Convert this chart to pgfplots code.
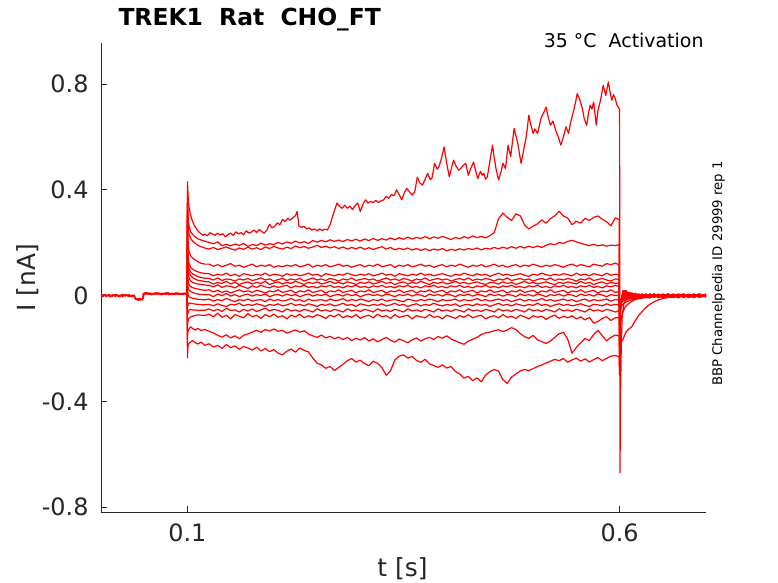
\documentclass[border=0pt]{standalone}
\usepackage{fontspec}
\setmainfont{DejaVu Sans}
\usepackage{pgfplots}
\pgfplotsset{compat=1.18}
\usepackage{pgfplotstable}
\definecolor{axgray}{gray}{0.15}

\pgfplotstableread{
t b c d e f g h i j k l m n o p
0.0995 0.005 0.007 0.006 0.004 0.008 0.005 0.006 0.007 0.004 0.006 0.005 0.007 0.006 0.005 0.006
0.1000 0.39 0.35 0.30 0.26 0.22 0.19 0.16 0.12 0.08 0.04 -0.03 -0.07 -0.11 -0.16 -0.235
0.1005 0.34 0.30 0.24 0.19 0.16 0.13 0.10 0.07 0.04 0.01 -0.04 -0.07 -0.10 -0.14 -0.20
0.1010 0.29 0.26 0.19 0.14 0.12 0.10 0.08 0.05 0.025 0.0 -0.03 -0.06 -0.09 -0.13 -0.185
0.1020 0.26 0.23 0.165 0.12 0.10 0.085 0.065 0.04 0.02 -0.005 -0.028 -0.055 -0.085 -0.125 -0.18
0.1040 0.24 0.215 0.15 0.105 0.088 0.075 0.055 0.034 0.015 -0.008 -0.03 -0.052 -0.08 -0.118 -0.175
0.1060 0.232 0.205 0.142 0.1 0.082 0.068 0.05 0.03 0.012 -0.01 -0.03 -0.055 -0.078 -0.125 -0.17
0.1090 0.222 0.198 0.135 0.094 0.077 0.062 0.046 0.027 0.008 -0.012 -0.032 -0.054 -0.075 -0.13 -0.178
0.1120 0.215 0.19 0.128 0.09 0.072 0.058 0.044 0.025 0.006 -0.014 -0.033 -0.056 -0.073 -0.124 -0.183
0.1160 0.21 0.185 0.122 0.086 0.068 0.056 0.042 0.022 0.004 -0.015 -0.034 -0.055 -0.074 -0.132 -0.176
0.1200 0.206 0.18 0.119 0.084 0.066 0.053 0.04 0.02 0.003 -0.016 -0.035 -0.056 -0.075 -0.128 -0.188
0.125 0.201 0.176 0.119 0.083 0.065 0.052 0.039 0.022 0.004 -0.013 -0.033 -0.050 -0.070 -0.135 -0.182
0.130 0.196 0.182 0.111 0.075 0.059 0.044 0.033 0.014 -0.004 -0.021 -0.039 -0.058 -0.080 -0.141 -0.195
0.135 0.203 0.174 0.117 0.081 0.067 0.050 0.041 0.020 0.006 -0.015 -0.031 -0.052 -0.066 -0.150 -0.188
0.140 0.189 0.179 0.109 0.077 0.057 0.046 0.031 0.012 0.000 -0.019 -0.037 -0.060 -0.082 -0.157 -0.200
0.145 0.194 0.184 0.115 0.085 0.063 0.054 0.037 0.018 0.008 -0.011 -0.041 -0.048 -0.074 -0.148 -0.185
0.150 0.188 0.177 0.121 0.075 0.061 0.044 0.035 0.010 -0.002 -0.017 -0.033 -0.056 -0.088 -0.160 -0.197
0.155 0.195 0.172 0.111 0.081 0.055 0.050 0.029 0.016 0.004 -0.023 -0.035 -0.054 -0.072 -0.152 -0.190
0.160 0.190 0.180 0.115 0.073 0.063 0.042 0.039 0.022 -0.004 -0.015 -0.029 -0.062 -0.078 -0.163 -0.203
0.165 0.197 0.175 0.107 0.083 0.059 0.048 0.033 0.014 0.002 -0.019 -0.039 -0.052 -0.084 -0.150 -0.192
0.170 0.186 0.183 0.113 0.079 0.065 0.052 0.027 0.018 0.006 -0.013 -0.033 -0.058 -0.068 -0.145 -0.198
0.175 0.193 0.176 0.119 0.075 0.057 0.044 0.037 0.012 -0.002 -0.021 -0.037 -0.050 -0.080 -0.138 -0.206
0.180 0.189 0.181 0.109 0.081 0.061 0.050 0.031 0.020 0.004 -0.017 -0.031 -0.060 -0.074 -0.131 -0.195
0.185 0.198 0.174 0.115 0.077 0.067 0.046 0.039 0.016 0.000 -0.015 -0.035 -0.054 -0.086 -0.139 -0.209
0.190 0.191 0.184 0.111 0.085 0.059 0.054 0.033 0.010 0.006 -0.023 -0.041 -0.048 -0.072 -0.128 -0.200
0.195 0.196 0.178 0.117 0.075 0.063 0.042 0.029 0.018 -0.004 -0.013 -0.033 -0.058 -0.080 -0.134 -0.212
0.200 0.193 0.186 0.107 0.081 0.055 0.048 0.037 0.014 0.002 -0.019 -0.037 -0.052 -0.070 -0.126 -0.204
0.205 0.201 0.180 0.113 0.079 0.061 0.052 0.031 0.022 0.004 -0.015 -0.031 -0.056 -0.082 -0.135 -0.218
0.210 0.195 0.176 0.109 0.073 0.065 0.044 0.035 0.012 -0.002 -0.021 -0.039 -0.062 -0.076 -0.131 -0.224
0.215 0.203 0.183 0.115 0.083 0.057 0.050 0.039 0.016 0.006 -0.017 -0.035 -0.050 -0.088 -0.142 -0.210
0.220 0.198 0.178 0.111 0.077 0.063 0.046 0.029 0.020 0.000 -0.011 -0.029 -0.058 -0.074 -0.136 -0.202
0.225 0.206 0.188 0.117 0.081 0.059 0.054 0.037 0.010 0.004 -0.019 -0.037 -0.054 -0.080 -0.130 -0.214
0.230 0.199 0.181 0.109 0.075 0.065 0.048 0.033 0.018 -0.004 -0.015 -0.033 -0.060 -0.070 -0.138 -0.198
0.235 0.204 0.186 0.113 0.079 0.055 0.042 0.039 0.014 0.002 -0.023 -0.039 -0.052 -0.084 -0.133 -0.207
0.240 0.197 0.179 0.119 0.085 0.061 0.050 0.031 0.022 0.006 -0.013 -0.031 -0.056 -0.076 -0.145 -0.213
0.245 0.208 0.184 0.107 0.077 0.067 0.046 0.035 0.012 -0.002 -0.019 -0.035 -0.062 -0.082 -0.152 -0.236
0.250 0.202 0.190 0.115 0.081 0.059 0.052 0.029 0.016 0.004 -0.017 -0.041 -0.050 -0.072 -0.158 -0.255
0.255 0.209 0.182 0.111 0.073 0.063 0.044 0.037 0.020 0.000 -0.015 -0.033 -0.058 -0.078 -0.149 -0.262
0.260 0.203 0.187 0.117 0.083 0.057 0.048 0.033 0.010 0.006 -0.021 -0.037 -0.054 -0.086 -0.160 -0.275
0.265 0.211 0.180 0.109 0.079 0.065 0.054 0.039 0.018 -0.004 -0.013 -0.031 -0.060 -0.074 -0.154 -0.268
0.270 0.205 0.185 0.113 0.075 0.061 0.046 0.031 0.014 0.002 -0.019 -0.039 -0.052 -0.080 -0.163 -0.283
0.275 0.210 0.178 0.119 0.081 0.055 0.050 0.035 0.022 0.004 -0.017 -0.035 -0.056 -0.070 -0.157 -0.272
0.280 0.204 0.184 0.111 0.077 0.063 0.044 0.029 0.012 -0.002 -0.011 -0.029 -0.062 -0.084 -0.166 -0.259
0.285 0.212 0.176 0.115 0.085 0.059 0.052 0.037 0.016 0.006 -0.021 -0.037 -0.050 -0.076 -0.158 -0.246
0.290 0.207 0.182 0.107 0.079 0.067 0.048 0.033 0.020 0.000 -0.015 -0.033 -0.058 -0.082 -0.170 -0.238
0.295 0.213 0.177 0.113 0.075 0.057 0.042 0.039 0.010 0.004 -0.019 -0.041 -0.054 -0.072 -0.161 -0.251
0.300 0.206 0.183 0.117 0.081 0.061 0.050 0.031 0.018 -0.004 -0.013 -0.031 -0.060 -0.086 -0.168 -0.244
0.305 0.214 0.175 0.109 0.077 0.065 0.046 0.035 0.014 0.002 -0.017 -0.035 -0.052 -0.078 -0.159 -0.257
0.310 0.208 0.181 0.115 0.083 0.059 0.052 0.029 0.022 0.006 -0.023 -0.039 -0.056 -0.074 -0.172 -0.265
0.315 0.216 0.174 0.111 0.075 0.063 0.044 0.037 0.012 0.000 -0.015 -0.033 -0.062 -0.084 -0.163 -0.248
0.320 0.209 0.180 0.119 0.079 0.055 0.048 0.033 0.016 0.004 -0.019 -0.037 -0.050 -0.070 -0.175 -0.256
0.325 0.215 0.185 0.109 0.085 0.061 0.054 0.039 0.020 -0.002 -0.013 -0.031 -0.058 -0.080 -0.166 -0.272
0.330 0.210 0.176 0.113 0.077 0.067 0.046 0.031 0.010 0.006 -0.021 -0.039 -0.054 -0.076 -0.158 -0.301
0.335 0.218 0.182 0.117 0.081 0.059 0.050 0.035 0.018 0.002 -0.017 -0.035 -0.060 -0.086 -0.169 -0.284
0.340 0.211 0.173 0.107 0.073 0.063 0.042 0.029 0.014 -0.004 -0.015 -0.029 -0.052 -0.072 -0.176 -0.243
0.345 0.219 0.179 0.115 0.083 0.057 0.048 0.037 0.022 0.004 -0.019 -0.037 -0.056 -0.082 -0.164 -0.229
0.350 0.213 0.174 0.111 0.079 0.065 0.052 0.033 0.012 0.000 -0.023 -0.033 -0.062 -0.078 -0.171 -0.224
0.355 0.221 0.180 0.117 0.075 0.061 0.044 0.039 0.016 0.006 -0.013 -0.041 -0.050 -0.074 -0.178 -0.236
0.360 0.214 0.172 0.109 0.081 0.055 0.050 0.031 0.020 -0.002 -0.017 -0.035 -0.058 -0.088 -0.167 -0.230
0.365 0.220 0.178 0.113 0.077 0.063 0.046 0.035 0.010 0.004 -0.021 -0.031 -0.054 -0.076 -0.160 -0.245
0.370 0.216 0.171 0.119 0.085 0.059 0.054 0.029 0.018 0.002 -0.015 -0.039 -0.060 -0.080 -0.172 -0.252
0.375 0.223 0.177 0.111 0.077 0.067 0.048 0.037 0.014 -0.004 -0.019 -0.033 -0.052 -0.084 -0.163 -0.241
0.380 0.215 0.170 0.115 0.081 0.057 0.042 0.033 0.022 0.006 -0.013 -0.037 -0.056 -0.072 -0.158 -0.258
0.385 0.222 0.176 0.107 0.075 0.061 0.050 0.039 0.012 0.000 -0.017 -0.029 -0.062 -0.082 -0.166 -0.264
0.390 0.217 0.172 0.113 0.079 0.065 0.046 0.031 0.016 0.004 -0.023 -0.035 -0.050 -0.078 -0.155 -0.271
0.395 0.224 0.178 0.117 0.083 0.059 0.052 0.035 0.020 -0.002 -0.015 -0.039 -0.058 -0.088 -0.161 -0.262
0.400 0.218 0.169 0.109 0.077 0.063 0.044 0.029 0.010 0.006 -0.019 -0.033 -0.054 -0.074 -0.152 -0.274
0.405 0.212 0.175 0.115 0.073 0.055 0.048 0.037 0.018 0.002 -0.017 -0.037 -0.060 -0.080 -0.164 -0.268
0.410 0.220 0.171 0.111 0.081 0.061 0.054 0.033 0.014 -0.004 -0.013 -0.031 -0.052 -0.086 -0.171 -0.287
0.415 0.215 0.177 0.119 0.077 0.065 0.046 0.039 0.022 0.004 -0.021 -0.041 -0.056 -0.076 -0.178 -0.296
0.420 0.223 0.172 0.113 0.085 0.059 0.050 0.031 0.012 0.000 -0.015 -0.035 -0.062 -0.082 -0.184 -0.312
0.425 0.217 0.178 0.107 0.079 0.067 0.044 0.035 0.016 0.006 -0.019 -0.033 -0.050 -0.072 -0.172 -0.305
0.430 0.226 0.174 0.115 0.075 0.057 0.048 0.029 0.020 -0.002 -0.017 -0.039 -0.058 -0.084 -0.165 -0.322
0.435 0.219 0.180 0.111 0.083 0.063 0.052 0.037 0.010 0.004 -0.011 -0.031 -0.054 -0.078 -0.158 -0.311
0.440 0.224 0.173 0.117 0.077 0.059 0.046 0.033 0.018 0.002 -0.019 -0.037 -0.060 -0.074 -0.147 -0.326
0.445 0.218 0.179 0.109 0.081 0.065 0.042 0.039 0.014 -0.004 -0.015 -0.033 -0.052 -0.088 -0.141 -0.300
0.450 0.227 0.176 0.113 0.073 0.061 0.050 0.031 0.022 0.006 -0.021 -0.041 -0.056 -0.080 -0.138 -0.288
0.455 0.238 0.182 0.119 0.079 0.055 0.048 0.035 0.012 0.000 -0.017 -0.035 -0.062 -0.076 -0.133 -0.279
0.460 0.291 0.177 0.111 0.085 0.063 0.044 0.029 0.016 0.004 -0.013 -0.029 -0.050 -0.084 -0.129 -0.286
0.465 0.312 0.183 0.115 0.077 0.059 0.052 0.037 0.020 -0.002 -0.019 -0.037 -0.058 -0.072 -0.136 -0.318
0.470 0.296 0.178 0.107 0.081 0.067 0.046 0.033 0.010 0.004 -0.015 -0.033 -0.054 -0.082 -0.130 -0.332
0.475 0.284 0.185 0.113 0.075 0.057 0.050 0.039 0.018 0.002 -0.023 -0.039 -0.060 -0.078 -0.121 -0.308
0.480 0.309 0.179 0.117 0.079 0.061 0.042 0.031 0.014 -0.004 -0.017 -0.031 -0.052 -0.086 -0.128 -0.296
0.485 0.302 0.186 0.109 0.083 0.065 0.048 0.035 0.022 0.006 -0.013 -0.035 -0.056 -0.074 -0.143 -0.285
0.490 0.268 0.180 0.115 0.077 0.059 0.054 0.029 0.012 0.000 -0.021 -0.039 -0.062 -0.080 -0.155 -0.279
0.495 0.252 0.187 0.111 0.073 0.063 0.046 0.037 0.016 0.004 -0.015 -0.033 -0.050 -0.088 -0.162 -0.284
0.500 0.263 0.181 0.119 0.081 0.055 0.050 0.033 0.020 -0.002 -0.019 -0.037 -0.058 -0.076 -0.150 -0.276
0.505 0.271 0.188 0.113 0.077 0.061 0.044 0.039 0.010 0.006 -0.017 -0.029 -0.054 -0.082 -0.167 -0.268
0.510 0.286 0.182 0.109 0.085 0.065 0.048 0.031 0.018 0.002 -0.011 -0.037 -0.060 -0.078 -0.174 -0.262
0.515 0.274 0.190 0.115 0.079 0.059 0.052 0.035 0.014 -0.004 -0.019 -0.033 -0.052 -0.090 -0.181 -0.255
0.520 0.291 0.196 0.111 0.075 0.067 0.046 0.029 0.022 0.004 -0.015 -0.041 -0.056 -0.080 -0.172 -0.248
0.525 0.302 0.192 0.117 0.081 0.057 0.042 0.037 0.012 0.000 -0.021 -0.035 -0.062 -0.074 -0.158 -0.241
0.530 0.319 0.201 0.113 0.077 0.063 0.050 0.033 0.016 0.006 -0.017 -0.031 -0.050 -0.086 -0.144 -0.246
0.535 0.301 0.197 0.107 0.083 0.059 0.046 0.039 0.020 -0.002 -0.013 -0.037 -0.058 -0.078 -0.139 -0.238
0.540 0.293 0.205 0.115 0.079 0.065 0.052 0.031 0.010 0.004 -0.019 -0.033 -0.054 -0.084 -0.165 -0.252
0.545 0.268 0.209 0.119 0.075 0.061 0.048 0.035 0.018 0.002 -0.015 -0.039 -0.060 -0.076 -0.218 -0.243
0.550 0.281 0.203 0.111 0.085 0.055 0.044 0.029 0.014 -0.004 -0.023 -0.035 -0.052 -0.088 -0.196 -0.236
0.555 0.274 0.198 0.117 0.077 0.063 0.054 0.037 0.022 0.006 -0.017 -0.031 -0.056 -0.080 -0.178 -0.248
0.560 0.292 0.193 0.113 0.081 0.059 0.046 0.033 0.012 0.000 -0.013 -0.037 -0.062 -0.092 -0.162 -0.239
0.565 0.284 0.189 0.109 0.075 0.067 0.050 0.039 0.016 0.004 -0.021 -0.041 -0.050 -0.082 -0.170 -0.251
0.570 0.296 0.194 0.119 0.083 0.057 0.042 0.031 0.020 -0.002 -0.015 -0.033 -0.058 -0.104 -0.147 -0.242
0.575 0.301 0.188 0.115 0.079 0.061 0.048 0.035 0.010 0.006 -0.019 -0.035 -0.054 -0.098 -0.131 -0.234
0.580 0.289 0.192 0.111 0.075 0.065 0.052 0.029 0.018 0.002 -0.017 -0.039 -0.060 -0.086 -0.152 -0.246
0.585 0.279 0.187 0.121 0.085 0.059 0.044 0.037 0.014 -0.004 -0.013 -0.031 -0.052 -0.080 -0.171 -0.237
0.590 0.264 0.191 0.117 0.077 0.055 0.050 0.033 0.022 0.004 -0.021 -0.037 -0.056 -0.094 -0.158 -0.229
0.595 0.294 0.189 0.123 0.081 0.063 0.046 0.039 0.012 0.000 -0.015 -0.033 -0.062 -0.084 -0.149 -0.226
0.5995 0.288 0.192 0.116 0.079 0.061 0.048 0.034 0.016 0.001 -0.017 -0.035 -0.056 -0.084 -0.152 -0.231
0.6000 -0.30 -0.27 -0.22 -0.19 -0.17 -0.15 -0.13 -0.11 -0.09 -0.07 -0.06 -0.07 -0.10 -0.24 -0.30
0.6005 -0.15 -0.13 -0.10 -0.085 -0.075 -0.065 -0.055 -0.05 -0.045 -0.04 -0.035 -0.045 -0.07 -0.17 -0.24
0.6010 -0.07 -0.06 -0.045 -0.04 -0.035 -0.03 -0.03 -0.028 -0.03 -0.028 -0.025 -0.035 -0.055 -0.12 -0.20
0.6020 -0.025 -0.02 -0.015 -0.012 -0.01 -0.015 -0.012 -0.015 -0.018 -0.02 -0.018 -0.028 -0.042 -0.085 -0.175
0.6040 0.012 0.02 0.015 0.008 0.01 0.002 0.004 -0.003 -0.008 -0.012 -0.014 -0.02 -0.032 -0.06 -0.165
0.6070 0.02 0.015 0.012 0.01 0.006 0.004 0.001 -0.002 -0.006 -0.01 -0.012 -0.016 -0.025 -0.04 -0.14
0.6100 0.008 0.012 0.006 0.003 0.007 -0.001 0.002 -0.004 -0.005 -0.008 -0.01 -0.013 -0.02 -0.032 -0.128
0.614 0.006 0.010 -0.004 0.008 0.002 0.004 -0.006 0.001 -0.008 -0.003 -0.009 -0.012 -0.016 -0.022 -0.118
0.618 -0.004 0.003 0.009 -0.002 0.006 -0.005 0.003 -0.007 0.002 -0.006 0.001 -0.010 -0.013 -0.015 -0.096
0.622 0.007 -0.005 0.002 0.005 -0.006 0.004 -0.002 0.006 -0.004 0.003 -0.007 0.000 -0.009 -0.012 -0.075
0.626 -0.006 0.004 -0.007 0.001 0.005 -0.003 0.007 -0.005 0.003 -0.008 0.002 -0.006 -0.004 -0.010 -0.061
0.630 0.003 -0.008 0.005 -0.006 0.000 0.006 -0.004 0.002 -0.007 0.004 -0.003 0.005 -0.008 -0.006 -0.046
0.635 -0.007 0.002 -0.003 0.006 -0.008 0.001 0.004 -0.006 0.005 -0.002 0.006 -0.004 0.002 -0.009 -0.033
0.640 0.004 -0.004 0.006 -0.005 0.003 -0.007 -0.001 0.005 -0.003 0.007 -0.005 0.003 -0.006 0.001 -0.023
0.645 -0.002 0.006 -0.008 0.003 -0.004 0.005 -0.006 0.000 0.004 -0.006 0.002 -0.008 0.004 -0.004 -0.016
0.650 0.005 -0.007 0.002 -0.003 0.006 -0.002 0.003 -0.008 -0.001 0.003 -0.006 0.004 -0.002 0.002 -0.011
0.656 -0.006 0.001 -0.005 0.007 -0.002 0.004 -0.007 0.003 -0.005 0.000 0.005 -0.003 0.006 -0.007 -0.007
0.662 0.002 -0.005 0.004 -0.006 0.005 -0.008 0.001 -0.004 0.006 -0.007 -0.001 0.002 -0.005 0.004 -0.003
0.668 -0.008 0.004 -0.002 0.002 -0.007 0.003 -0.005 0.006 -0.003 0.004 -0.008 0.005 -0.001 -0.005 0.002
0.674 0.004 -0.006 0.007 -0.004 0.001 -0.006 0.005 -0.002 0.002 -0.005 0.003 -0.007 0.004 0.000 -0.006
0.680 -0.003 0.005 -0.006 0.004 -0.005 0.002 -0.003 0.004 -0.007 0.001 -0.004 0.002 -0.008 0.005 0.001
0.686 0.006 -0.002 0.001 -0.007 0.004 -0.004 0.006 -0.006 0.003 -0.008 0.005 -0.003 0.002 -0.006 -0.004
0.692 -0.005 0.003 -0.004 0.005 -0.003 0.006 -0.007 0.002 -0.002 0.004 -0.006 0.007 -0.004 0.003 0.002
0.700 0.002 -0.004 0.005 -0.002 0.006 -0.005 0.002 -0.004 0.005 -0.003 0.001 -0.005 0.003 -0.002 -0.003
}\pulse

\begin{document}
\begin{tikzpicture}[x=1bp,y=1bp]
\useasboundingbox (0,0) rectangle (778,583);
\begin{axis}[
  at={(101bp,71bp)}, anchor=south west,
  scale only axis, width=605bp, height=469bp,
  xmin=0, xmax=0.7, ymin=-0.818, ymax=0.955,
  axis lines*=left,
  axis line style={-, draw=axgray, line width=0.6bp},
  tick pos=left, tick align=inside,
  major tick length=6bp,
  tick style={draw=axgray, line width=0.6bp},
  xtick={0.1,0.6}, xticklabels={0.1,0.6},
  ytick={-0.8,-0.4,0,0.4,0.8}, yticklabels={-0.8,-0.4,0,0.4,0.8},
  ticklabel style={font=\fontsize{24}{29}\selectfont, text=axgray},
  yticklabel style={xshift=-9bp},
  xticklabel style={yshift=-8bp},
  clip=true,
  tr/.style={red, line width=1.2bp, line join=round, mark=none},
]
% pre-pulse baseline
\addplot[tr] coordinates {(0,0.002) (0.0025,-0.003) (0.005,0.004) (0.0075,-0.001) (0.01,0.003) (0.0125,-0.004) (0.015,0.001) (0.0175,0.005) (0.02,-0.002) (0.0225,0.002) (0.025,-0.004) (0.0275,0.003) (0.03,0.000) (0.0325,0.004) (0.035,-0.003) (0.0375,0.002) (0.039,-0.001) (0.0395,-0.012) (0.042,-0.016) (0.0445,-0.010) (0.047,-0.015) (0.0485,-0.011) (0.049,0.008) (0.0515,0.005) (0.054,0.010) (0.0565,0.004) (0.059,0.009) (0.0615,0.006) (0.064,0.011) (0.0665,0.005) (0.069,0.008) (0.0715,0.004) (0.074,0.010) (0.0765,0.006) (0.079,0.009) (0.0815,0.003) (0.084,0.008) (0.0865,0.005) (0.089,0.010) (0.0915,0.004) (0.094,0.008) (0.0965,0.006) (0.0995,0.005)};
\addplot[tr] coordinates {(0,-0.002) (0.003,0.004) (0.0055,-0.003) (0.008,0.002) (0.0105,-0.005) (0.013,0.003) (0.0155,-0.001) (0.018,0.004) (0.0205,-0.004) (0.023,0.001) (0.0255,0.005) (0.028,-0.002) (0.0305,0.003) (0.033,-0.004) (0.0355,0.002) (0.038,-0.002) (0.0393,-0.008) (0.041,-0.013) (0.0435,-0.018) (0.046,-0.012) (0.048,-0.017) (0.0488,0.004) (0.051,0.011) (0.0535,0.006) (0.056,0.010) (0.0585,0.003) (0.061,0.009) (0.0635,0.005) (0.066,0.011) (0.0685,0.004) (0.071,0.009) (0.0735,0.006) (0.076,0.011) (0.0785,0.003) (0.081,0.008) (0.0835,0.006) (0.086,0.010) (0.0885,0.004) (0.091,0.009) (0.0935,0.005) (0.096,0.010) (0.0985,0.006) (0.0995,0.007)};
\addplot[tr] coordinates {(0,0.001) (0.0015,-0.004) (0.004,0.003) (0.0065,-0.002) (0.009,0.005) (0.0115,-0.001) (0.014,0.004) (0.0165,-0.003) (0.019,0.002) (0.0215,-0.005) (0.024,0.003) (0.0265,-0.001) (0.029,0.004) (0.0315,-0.003) (0.034,0.001) (0.0365,-0.004) (0.0385,0.002) (0.040,-0.015) (0.0425,-0.011) (0.045,-0.017) (0.0475,-0.013) (0.0489,-0.009) (0.050,0.007) (0.0525,0.012) (0.055,0.005) (0.0575,0.009) (0.060,0.004) (0.0625,0.010) (0.065,0.006) (0.0675,0.009) (0.070,0.003) (0.0725,0.008) (0.075,0.005) (0.0775,0.011) (0.080,0.006) (0.0825,0.009) (0.085,0.004) (0.0875,0.010) (0.090,0.006) (0.0925,0.008) (0.095,0.004) (0.0975,0.009) (0.0995,0.006)};
% top trace
\addplot[tr] coordinates {(0.0995,0.005) (0.1,0.43) (0.1005,0.40) (0.101,0.36) (0.102,0.33) (0.104,0.30) (0.106,0.28) (0.108,0.265) (0.11,0.255) (0.112,0.245) (0.115,0.235) (0.118,0.228) (0.12,0.232) (0.123,0.226) (0.126,0.238) (0.129,0.233) (0.132,0.228) (0.135,0.236) (0.138,0.229) (0.141,0.234) (0.144,0.222) (0.147,0.231) (0.15,0.236) (0.153,0.228) (0.156,0.241) (0.159,0.233) (0.162,0.238) (0.165,0.23) (0.168,0.245) (0.171,0.236) (0.174,0.24) (0.177,0.248) (0.18,0.238) (0.183,0.25) (0.186,0.242) (0.189,0.236) (0.192,0.248) (0.195,0.27) (0.198,0.256) (0.201,0.262) (0.204,0.275) (0.207,0.268) (0.21,0.288) (0.213,0.28) (0.216,0.292) (0.219,0.285) (0.222,0.295) (0.225,0.302) (0.227,0.318) (0.229,0.262) (0.232,0.258) (0.235,0.262) (0.238,0.252) (0.241,0.256) (0.244,0.248) (0.247,0.252) (0.25,0.245) (0.253,0.252) (0.256,0.246) (0.259,0.251) (0.262,0.248) (0.265,0.268) (0.268,0.3) (0.271,0.33) (0.273,0.35) (0.276,0.338) (0.279,0.33) (0.282,0.342) (0.285,0.33) (0.288,0.338) (0.291,0.325) (0.294,0.34) (0.297,0.35) (0.3,0.318) (0.303,0.345) (0.306,0.362) (0.309,0.35) (0.312,0.356) (0.315,0.352) (0.318,0.36) (0.321,0.352) (0.324,0.358) (0.327,0.362) (0.33,0.375) (0.333,0.368) (0.336,0.382) (0.339,0.378) (0.342,0.4) (0.345,0.382) (0.348,0.362) (0.351,0.39) (0.354,0.405) (0.357,0.392) (0.36,0.38) (0.363,0.392) (0.366,0.448) (0.369,0.425) (0.372,0.418) (0.375,0.44) (0.378,0.462) (0.381,0.438) (0.383,0.445) (0.386,0.50) (0.389,0.478) (0.391,0.487) (0.394,0.52) (0.397,0.562) (0.4,0.50) (0.403,0.449) (0.406,0.49) (0.408,0.512) (0.411,0.488) (0.414,0.474) (0.416,0.48) (0.419,0.492) (0.422,0.50) (0.425,0.455) (0.428,0.482) (0.431,0.505) (0.434,0.465) (0.436,0.443) (0.439,0.47) (0.441,0.455) (0.443,0.462) (0.445,0.44) (0.447,0.449) (0.45,0.51) (0.453,0.569) (0.455,0.52) (0.457,0.48) (0.46,0.437) (0.463,0.47) (0.465,0.50) (0.468,0.48) (0.471,0.569) (0.474,0.525) (0.476,0.58) (0.478,0.632) (0.48,0.605) (0.482,0.58) (0.484,0.54) (0.486,0.50) (0.489,0.55) (0.492,0.60) (0.495,0.682) (0.497,0.65) (0.5,0.613) (0.502,0.63) (0.505,0.613) (0.507,0.64) (0.509,0.67) (0.512,0.69) (0.515,0.713) (0.517,0.68) (0.52,0.644) (0.523,0.66) (0.526,0.625) (0.529,0.60) (0.532,0.569) (0.535,0.60) (0.538,0.638) (0.541,0.613) (0.543,0.65) (0.546,0.688) (0.549,0.73) (0.551,0.764) (0.554,0.74) (0.557,0.707) (0.559,0.67) (0.562,0.644) (0.564,0.69) (0.566,0.72) (0.568,0.705) (0.57,0.732) (0.573,0.644) (0.575,0.70) (0.578,0.739) (0.581,0.795) (0.584,0.757) (0.587,0.808) (0.589,0.77) (0.591,0.739) (0.593,0.76) (0.595,0.745) (0.597,0.72) (0.5995,0.707) (0.6,0.70) (0.6005,-0.67) (0.601,-0.40) (0.602,-0.18) (0.603,-0.08) (0.605,-0.03) (0.608,-0.012) (0.612,0.004) (0.617,-0.008) (0.622,0.002) (0.628,-0.006) (0.635,0.003) (0.642,-0.004) (0.65,0.001) (0.66,-0.007) (0.67,0.0) (0.68,-0.005) (0.69,0.002) (0.7,-0.003)};
% other traces
\pgfplotsinvokeforeach{b,c,d,e,f,g,h,i,j,k,l,m,n,o,p}{
  \addplot[tr] table[x=t, y=#1] {\pulse};
}
\end{axis}
\node[anchor=base west, font=\fontsize{23.5}{28}\bfseries\selectfont] at (115,557) {TREK1\ \ Rat\ \ CHO\_FT};
\node[anchor=base east, font=\fontsize{19}{23}\selectfont] at (707,535) {35 °C\ \ Activation};
\node[rotate=90, anchor=base, font=\fontsize{13.3}{16}\selectfont] at (722,309.5) {BBP Channelpedia ID 29999 rep 1};
\node[rotate=90, anchor=base, font=\fontsize{25}{30}\selectfont, text=axgray] at (35.5,305.5) {I [nA]};
\node[anchor=base, font=\fontsize{25}{30}\selectfont, text=axgray] at (402.5,6) {t [s]};
\end{tikzpicture}
\end{document}
